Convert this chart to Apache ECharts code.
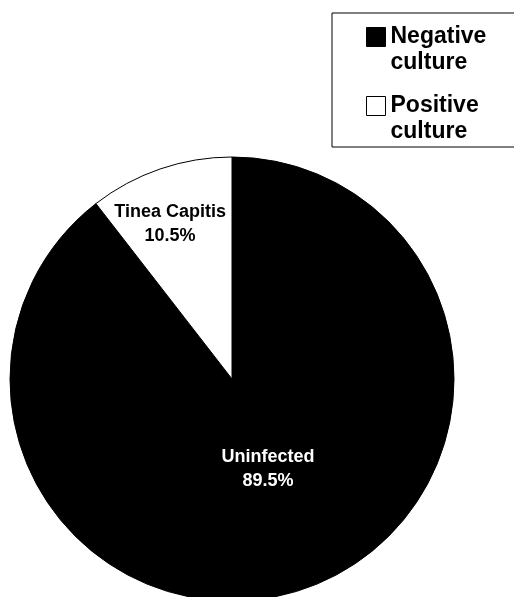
<!DOCTYPE html>
<html>
<head>
<meta charset="utf-8">
<script src="https://cdn.jsdelivr.net/npm/echarts@6/dist/echarts.min.js"></script>
<style>
html,body{margin:0;padding:0;background:#fff;}
#chart{width:514px;height:597px;}
</style>
</head>
<body>
<div id="chart"></div>
<script>
// Data
const categories = ['Uninfected', 'Tinea Capitis'];
const values = [89.5, 10.5];
const legendLabels = ['Negative\nculture', 'Positive\nculture'];
const sliceColors = ['#000000', '#ffffff'];
const labelColors = ['#ffffff', '#000000'];
const labelOffsets = [[-1, -18], [-25, -47]];

const FONT = '"Liberation Sans", Arial, sans-serif';
const iconPath = 'path://M0,3.5L19,3.5L19,22.5L0,22.5Z M0,0 M0,52';

const chart = echarts.init(document.getElementById('chart'), null, {renderer: 'canvas'});

const seriesData = categories.map((name, i) => ({
  name: name,
  value: values[i],
  itemStyle: {color: sliceColors[i], borderColor: '#000', borderWidth: 1},
  label: {color: labelColors[i], offset: labelOffsets[i]}
}));

const option = {
  animation: false,
  backgroundColor: '#fff',
  legend: {
    orient: 'vertical',
    left: 332,
    top: 13,
    padding: [10.5, 45, 1.5, 34],
    itemGap: 16,
    itemWidth: 19,
    itemHeight: 52,
    icon: iconPath,
    backgroundColor: '#fff',
    borderColor: '#000',
    borderWidth: 1,
    borderRadius: 0,
    selectedMode: false,
    data: categories.map((name, i) => ({
      name: name,
      itemStyle: {color: sliceColors[i], borderColor: '#000', borderWidth: 1}
    })),
    formatter: function (name) {
      return legendLabels[categories.indexOf(name)];
    },
    textStyle: {
      fontFamily: FONT,
      fontSize: 23,
      fontWeight: 'bold',
      color: '#000',
      lineHeight: 26
    }
  },
  series: [{
    type: 'pie',
    center: [232, 379],
    radius: 222,
    startAngle: 90,
    clockwise: true,
    silent: true,
    label: {
      show: true,
      position: 'inside',
      formatter: '{b}\n{c}%',
      fontFamily: FONT,
      fontSize: 18,
      fontWeight: 'bold',
      lineHeight: 24,
      align: 'center'
    },
    labelLine: {show: false},
    emphasis: {disabled: true},
    data: seriesData
  }]
};

chart.setOption(option);
</script>
</body>
</html>
